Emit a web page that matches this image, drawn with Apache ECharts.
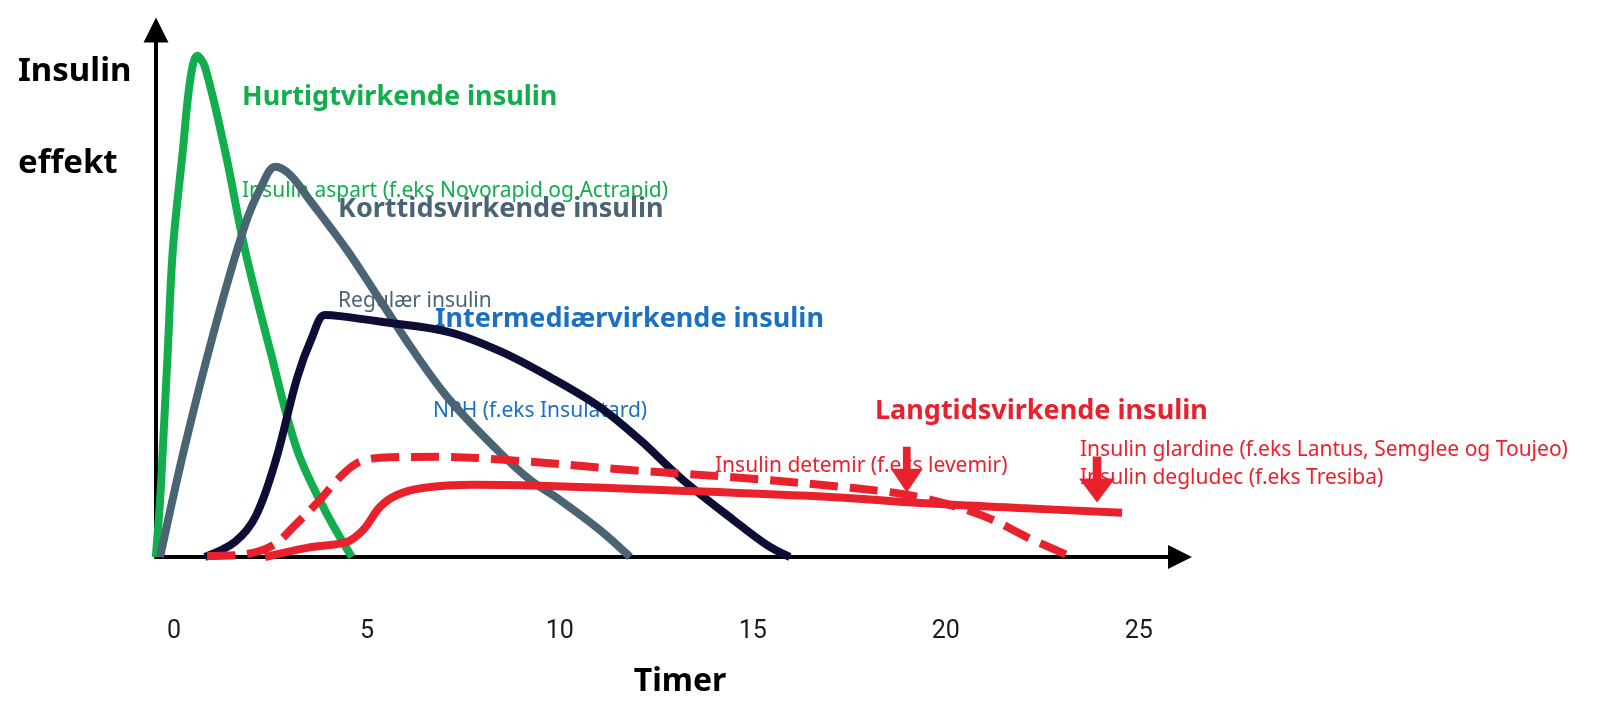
<!DOCTYPE html>
<html>
<head>
<meta charset="utf-8">
<script src="https://cdn.jsdelivr.net/npm/echarts@6/dist/echarts.min.js"></script>
<style>
	html, body { margin: 0; padding: 0; background: #fff; }
	#chart { width: 1600px; height: 706px; }
</style>
</head>
<body>
<div id="chart"></div>
<script type="text/javascript">
	// timer (x) og insulin effekt (y, relativ skala 0-100)
	var xTicks = [0, 5, 10, 15, 20, 25];

	var hurtig = [[-0.47, 0], [-0.36, 10.6], [-0.29, 19.9], [-0.16, 38.4], [-0.03, 57.0], [0.23, 75.5],
		[0.42, 88.5], [0.6, 93.0], [0.8, 91.0], [1.32, 75.5], [1.84, 57.0], [2.49, 38.4], [3.19, 19.9],
		[3.91, 8.7], [4.61, 0]];

	var korttid = [[-0.36, 0], [0.26, 19.9], [1.06, 42.5], [1.84, 61.6], [2.28, 69.0], [2.62, 72.4],
		[3.01, 70.9], [3.52, 66.2], [4.48, 57.0], [5.34, 47.7], [6.19, 38.4], [7.15, 29.1], [8.37, 19.9],
		[9.23, 14.3], [10.0, 10.6], [11.04, 5.0], [11.82, 0]];

	var intermediaer = [[0.8, 0], [1.58, 2.8], [2.12, 7.6], [2.64, 18.0], [3.19, 33.2], [3.58, 40.8],
		[3.91, 44.9], [4.3, 44.7], [5.42, 43.6], [7.15, 41.7], [8.45, 38.2], [9.74, 33.4], [11.04, 27.8],
		[12.08, 21.7], [13.19, 14.3], [14.49, 6.9], [15.37, 2.2], [15.96, 0]];

	var detemir = [[0.86, 0.2], [1.71, 0.4], [2.57, 2.2], [3.19, 6.3], [3.78, 10.6], [4.3, 14.8],
		[4.74, 17.4], [5.34, 18.4], [6.89, 18.6], [8.63, 18.0], [11.89, 16.1], [14.49, 14.8],
		[16.74, 13.4], [18.48, 12.1], [19.33, 11.1], [20.37, 9.1], [21.22, 6.9], [22.1, 3.7], [23.14, 0.4]];

	var glardine = [[2.36, 0], [3.45, 1.7], [4.48, 2.8], [4.9, 5.0], [5.34, 9.3], [5.78, 11.5],
		[6.45, 12.8], [7.75, 13.4], [9.48, 13.2], [12.78, 12.4], [17.13, 11.1], [19.33, 10.0],
		[21.92, 9.1], [24.57, 8.2]];

	var pile = [[18.99, 16.2], [23.92, 14.4]];

	var green = '#12ad4c', slate = '#4b6473', navy = '#0d0d35', blue = '#1b70c1', red = '#e8212d';
	var font = '"Noto Sans", "Open Sans", sans-serif';

	function tekst(str, x, y, size, color, bold, align) {
		return {
			type: 'text', z: 1, x: x, y: y,
			style: {
				text: str, fill: color, align: align || 'left', verticalAlign: 'middle',
				font: (bold ? 'bold ' : '') + size + 'px ' + font
			}
		};
	}

	var chart = echarts.init(document.getElementById('chart'));
	var option = {
		backgroundColor: '#fff',
		animation: false,
		grid: { left: 156, right: 420, top: 30, bottom: 149, outerBoundsMode: 'none' },
		xAxis: {
			type: 'value', min: -0.466, max: 26.07,
			splitLine: { show: false },
			axisTick: { show: false },
			axisLine: {
				onZero: false,
				lineStyle: { color: '#000', width: 4 },
				symbol: ['none', 'triangle'], symbolSize: [24, 24]
			},
			axisLabel: {
				customValues: xTicks, margin: 62,
				color: '#1a1a1a', fontSize: 25, fontFamily: 'Roboto, sans-serif'
			}
		},
		yAxis: {
			type: 'value', min: 0, max: 97.8,
			splitLine: { show: false },
			axisTick: { show: false },
			axisLabel: { show: false },
			axisLine: {
				show: true, onZero: false,
				lineStyle: { color: '#000', width: 4 },
				symbol: ['none', 'triangle'], symbolSize: [25, 25]
			}
		},
		graphic: [
			tekst('Insulin', 18, 72, 33, '#000', true),
			tekst('effekt', 18, 164, 33, '#000', true),
			tekst('Hurtigtvirkende insulin', 242, 97, 27, green, true),
			tekst('Insulin aspart (f.eks Novorapid og Actrapid)', 242, 191, 21, green, false),
			tekst('Korttidsvirkende insulin', 338, 209, 27, slate, true),
			tekst('Regulær insulin', 338, 301, 21, slate, false),
			tekst('Intermediærvirkende insulin', 435, 319, 27, blue, true),
			tekst('NPH (f.eks Insulatard)', 433, 411, 21, blue, false),
			tekst('Langtidsvirkende insulin', 875, 411, 27, red, true),
			tekst('Insulin detemir (f.eks levemir)', 715, 466, 21, red, false),
			tekst('Insulin glardine (f.eks Lantus, Semglee og Toujeo)', 1080, 450, 21, red, false),
			tekst('Insulin degludec (f.eks Tresiba)', 1080, 478, 21, red, false),
			tekst('Timer', 680, 682, 32, '#000', true, 'center')
		],
		series: [
			{
				name: 'Hurtigtvirkende insulin', type: 'line', data: hurtig, z: 5,
				smooth: 0.35, showSymbol: false, clip: false,
				lineStyle: { color: green, width: 8 }
			},
			{
				name: 'Korttidsvirkende insulin', type: 'line', data: korttid, z: 5,
				smooth: 0.35, showSymbol: false, clip: false,
				lineStyle: { color: slate, width: 8 }
			},
			{
				name: 'Intermediærvirkende insulin', type: 'line', data: intermediaer, z: 5,
				smooth: 0.35, showSymbol: false, clip: false,
				lineStyle: { color: navy, width: 8 }
			},
			{
				name: 'Insulin detemir', type: 'line', data: detemir, z: 5,
				smooth: 0.35, showSymbol: false, clip: false,
				lineStyle: { color: red, width: 8, type: [28, 12], cap: 'butt' }
			},
			{
				name: 'Insulin glardine', type: 'line', data: glardine, z: 5,
				smooth: 0.35, showSymbol: false, clip: false,
				lineStyle: { color: red, width: 8 }
			},
			{
				name: 'pile', type: 'scatter', data: pile, z: 6,
				symbol: 'path://M38,0 L62,0 L62,48 L100,48 L50,100 L0,48 L38,48 Z',
				symbolSize: function (v, p) { return p.dataIndex === 0 ? [32, 46] : [36, 46]; },
				itemStyle: { color: red, opacity: 1 }
			}
		]
	};
	chart.setOption(option);
	window.onresize = function () {
		chart.resize();
	};
</script>
</body>
</html>
